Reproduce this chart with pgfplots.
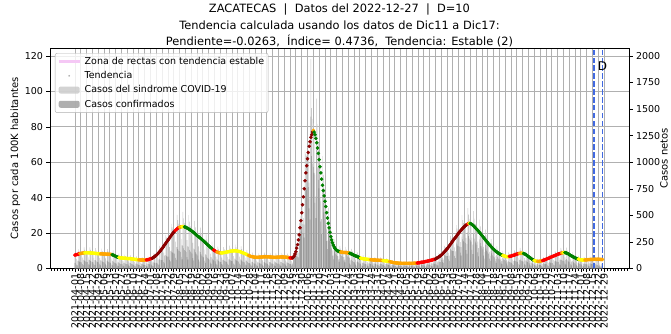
\documentclass[border=0pt]{standalone}
\usepackage{fontspec}
\setmainfont{DejaVu Sans}
\usepackage{pgfplots}
\usepackage{pgfplotstable}
\usepackage{pgfcalendar}
\pgfplotsset{compat=1.18}

\definecolor{tdarkred}{HTML}{8B0000}
\definecolor{tred}{HTML}{FF0000}
\definecolor{torange}{HTML}{FFA500}
\definecolor{tyellow}{HTML}{FFFF00}
\definecolor{tgreen}{HTML}{008000}
\definecolor{sindgray}{HTML}{C8C8C8}
\definecolor{confgray}{HTML}{9C9C9C}
\definecolor{pinkzone}{HTML}{F5C8F5}
\definecolor{royal}{HTML}{4169E1}
\definecolor{gridgray}{HTML}{B0B0B0}

\newcount\basejd
\newcount\tmpjd
\pgfcalendardatetojulian{2021-04-01}{\basejd}

% t: tendencia (por 100K), k: clase de color, s: casos sindrome, c: confirmados (netos)
\pgfplotstableread{
t k s c
7.6 1 133 53
7.7 1 129 52
7.8 1 91 36
8.0 1 74 30
8.1 1 182 73
8.3 1 166 66
8.4 2 154 62
8.5 2 149 60
8.6 2 144 58
8.7 2 102 41
8.8 2 81 32
8.8 2 198 79
8.8 3 176 70
8.9 3 163 65
8.9 3 156 62
8.9 3 149 60
8.9 3 104 42
8.9 3 82 33
8.8 3 198 79
8.8 3 176 70
8.7 3 159 64
8.7 3 152 61
8.7 3 145 58
8.6 3 101 40
8.6 3 79 32
8.5 3 191 76
8.5 3 170 68
8.4 3 154 62
8.4 3 147 59
8.3 3 139 56
8.3 3 97 39
8.3 2 76 30
8.3 2 187 75
8.2 2 164 66
8.2 2 150 60
8.2 2 144 58
8.2 2 137 55
8.2 2 96 38
8.1 2 75 30
8.1 2 182 73
8.1 2 162 65
8.1 2 148 59
8.0 2 140 56
8.0 2 134 54
7.9 2 92 37
7.8 4 72 29
7.6 4 171 68
7.4 4 148 59
7.2 4 132 53
6.9 4 121 48
6.7 4 112 45
6.5 4 76 30
6.3 4 58 23
6.2 3 140 56
6.1 3 122 49
6.0 3 110 44
6.0 3 105 42
5.9 3 99 40
5.9 3 69 28
5.8 3 53 21
5.8 3 131 52
5.8 3 116 46
5.7 3 104 42
5.7 3 100 40
5.6 3 94 38
5.6 3 66 26
5.6 3 52 21
5.5 3 124 50
5.4 3 108 43
5.4 3 99 40
5.3 3 93 37
5.2 3 87 35
5.2 3 61 24
5.1 3 47 19
5.1 3 115 46
5.0 3 100 40
5.0 3 92 37
4.9 2 86 34
4.9 2 82 33
4.8 2 56 22
4.8 2 44 18
4.8 2 108 43
4.8 2 96 38
4.8 2 88 35
4.8 2 84 34
4.8 2 80 32
4.9 1 57 23
4.9 1 45 18
5.0 1 113 45
5.1 1 102 41
5.3 1 97 39
5.5 1 96 38
5.6 1 94 37
5.8 0 68 27
6.1 0 56 22
6.4 0 144 58
6.8 0 136 54
7.1 0 130 52
7.5 0 131 52
8.0 0 134 53
8.5 0 99 40
9.0 0 83 33
9.5 0 214 85
10.0 0 200 80
10.7 0 196 78
11.3 0 198 79
12.0 0 200 80
12.7 0 149 59
13.3 0 122 49
14.0 0 315 126
14.7 0 294 118
15.3 0 280 112
16.0 0 280 112
16.7 0 279 111
17.3 0 202 81
18.0 0 166 66
18.7 0 421 168
19.3 0 386 154
20.0 0 366 146
20.5 0 359 143
21.0 0 351 140
21.5 1 252 101
22.0 1 202 81
22.4 1 504 201
22.8 1 456 182
23.0 1 421 168
23.3 2 408 163
23.4 2 391 156
23.6 2 276 110
23.6 3 217 87
23.7 3 533 213
23.6 3 472 189
23.5 4 430 172
23.3 4 408 163
23.1 4 386 154
22.8 4 267 107
22.6 4 208 83
22.3 4 502 201
22.0 4 440 176
21.7 4 397 159
21.4 4 375 150
21.0 4 351 140
20.7 4 242 97
20.3 4 187 75
19.9 4 448 179
19.4 4 388 155
19.0 4 348 139
18.6 4 326 130
18.2 4 304 122
17.9 4 209 84
17.5 4 161 64
17.1 4 385 154
16.7 4 334 134
16.3 4 298 119
15.9 4 278 111
15.5 4 259 104
15.1 4 177 71
14.6 4 134 54
14.2 4 320 128
13.7 4 274 110
13.3 4 243 97
12.9 4 226 90
12.4 4 207 83
12.0 4 140 56
11.6 4 107 43
11.2 4 252 101
10.8 4 216 86
10.4 1 190 76
10.1 1 177 71
9.8 1 164 66
9.5 1 111 44
9.3 2 86 34
9.2 2 207 83
9.0 2 180 72
8.9 2 163 65
8.9 2 156 62
8.8 3 147 59
8.8 3 103 41
8.9 3 82 33
8.9 3 200 80
9.0 3 180 72
9.1 3 167 67
9.2 3 161 64
9.3 3 155 62
9.4 3 110 44
9.5 3 87 35
9.6 3 216 86
9.7 3 194 78
9.8 3 179 72
9.9 3 173 69
9.9 3 165 66
10.0 3 117 47
10.0 3 92 37
10.0 3 225 90
9.9 3 198 79
9.9 3 181 72
9.8 3 172 69
9.7 3 162 65
9.6 3 112 45
9.4 3 86 35
9.3 3 209 84
9.1 3 182 73
8.9 3 163 65
8.7 3 152 61
8.5 3 142 57
8.3 3 97 39
8.1 3 75 30
7.8 3 176 70
7.6 3 152 61
7.4 2 135 54
7.2 2 126 50
7.0 2 117 47
6.8 2 80 32
6.7 2 62 25
6.6 2 149 59
6.5 2 130 52
6.4 2 117 47
6.4 2 112 45
6.4 2 107 43
6.3 2 74 30
6.3 2 58 23
6.3 2 142 57
6.4 2 128 51
6.4 2 117 47
6.5 2 114 46
6.5 2 109 43
6.5 2 76 30
6.6 2 61 24
6.6 2 149 59
6.6 2 132 53
6.6 2 121 48
6.6 2 116 46
6.6 2 110 44
6.6 2 77 31
6.5 2 60 24
6.5 2 146 59
6.5 2 130 52
6.4 2 117 47
6.4 2 112 45
6.3 2 105 42
6.3 2 74 29
6.3 2 58 23
6.3 2 142 57
6.4 2 128 51
6.4 2 117 47
6.4 2 112 45
6.4 2 107 43
6.5 2 76 30
6.5 2 60 24
6.5 2 146 59
6.5 2 130 52
6.5 2 119 48
6.4 2 112 45
6.4 2 107 43
6.4 2 75 30
6.3 2 58 23
6.2 2 140 56
6.2 2 124 50
6.1 2 112 45
6.0 1 105 42
6.0 1 100 40
5.9 1 69 28
6.0 0 55 39
6.5 0 146 102
7.0 0 140 98
8.2 0 150 105
9.5 0 166 116
11.5 0 192 134
13.5 0 158 111
16.2 0 149 104
19.0 0 428 300
23.0 0 460 322
27.0 0 494 346
31.5 0 551 386
36.0 0 601 421
40.5 0 474 332
45.0 0 414 290
49.5 0 1114 780
54.0 0 1080 756
58.0 0 1061 743
62.0 0 1085 760
65.5 0 1094 766
69.0 0 807 565
71.5 0 658 461
74.0 0 1970 1430
75.5 0 1510 1057
77.0 0 1409 986
78.0 2 1365 956
77.0 4 1286 900
75.5 4 883 618
73.5 4 676 473
71.0 4 1598 1119
68.0 4 1360 952
65.0 4 1190 833
61.5 4 1076 753
57.5 4 960 672
54.0 4 632 442
50.5 4 465 325
47.0 4 1058 741
44.0 4 880 616
41.0 4 750 525
38.0 4 665 466
35.0 4 585 410
31.5 4 369 258
28.5 4 262 183
25.5 4 574 402
23.0 4 460 322
20.5 4 375 263
18.0 4 315 220
16.2 4 271 190
14.6 4 171 120
13.3 4 122 85
12.2 4 275 192
11.4 4 228 160
10.8 4 198 138
10.3 4 180 126
10.0 4 167 117
9.8 4 115 80
9.6 4 88 62
9.5 4 214 150
9.3 2 186 130
9.2 2 168 118
9.2 2 161 113
9.1 2 152 106
9.1 2 106 74
9.0 2 83 58
9.0 2 203 142
8.9 2 178 125
8.9 2 163 114
8.8 2 154 108
8.8 2 147 103
8.6 4 101 45
8.4 4 77 35
8.2 4 185 83
8.0 4 160 72
7.7 4 141 63
7.5 4 131 59
7.3 4 122 55
7.1 4 83 37
6.9 4 63 28
6.7 4 151 68
6.5 4 130 59
6.2 4 113 51
6.0 4 105 47
5.9 3 99 45
5.7 3 67 30
5.6 3 52 23
5.5 3 124 56
5.4 3 108 49
5.4 3 99 45
5.3 3 93 42
5.2 3 87 39
5.2 3 61 27
5.1 3 47 21
5.1 3 115 52
5.0 3 100 45
5.0 2 92 41
4.9 2 86 39
4.9 2 82 37
4.8 2 56 25
4.8 2 44 20
4.8 2 108 49
4.8 2 96 43
4.7 2 86 39
4.7 2 82 37
4.7 2 78 35
4.7 2 55 25
4.6 2 42 19
4.6 2 104 47
4.6 2 92 41
4.5 2 82 37
4.5 3 79 36
4.4 3 73 33
4.4 3 51 23
4.3 3 40 18
4.2 3 95 43
4.2 3 84 38
4.1 3 75 34
4.0 3 70 32
3.9 2 65 29
3.7 2 43 19
3.6 2 33 15
3.5 2 79 36
3.4 2 68 31
3.3 2 60 27
3.2 2 56 25
3.2 2 53 24
3.1 2 36 16
3.1 2 29 13
3.0 2 68 31
3.0 2 60 27
3.0 2 55 25
3.0 2 53 24
2.9 2 48 22
2.9 2 34 15
2.9 2 27 12
2.9 2 65 29
2.9 2 58 26
2.9 2 53 24
2.9 2 51 23
2.9 2 48 22
2.9 2 34 15
2.9 2 27 12
2.9 2 65 29
2.9 2 58 26
2.9 2 53 24
2.9 2 51 23
2.9 2 48 22
3.0 2 35 16
3.0 2 28 13
3.0 2 68 31
3.0 2 60 27
3.1 1 57 26
3.2 1 56 25
3.2 1 53 24
3.3 1 39 18
3.4 1 31 14
3.5 1 79 36
3.5 1 70 32
3.6 1 66 30
3.7 1 65 29
3.8 1 63 28
3.9 1 46 21
4.0 1 37 17
4.1 1 92 41
4.2 1 84 38
4.3 1 79 36
4.5 1 79 36
4.6 1 77 35
4.7 1 55 25
4.8 1 44 20
5.0 1 113 51
5.1 1 102 46
5.2 1 95 43
5.4 0 95 43
5.7 0 95 43
6.0 0 70 32
6.2 0 57 26
6.5 0 146 66
6.9 0 138 62
7.2 0 132 59
7.6 0 133 80
8.0 0 134 80
8.5 0 99 59
9.0 0 83 50
9.5 0 214 128
10.0 0 200 120
10.6 0 194 116
11.1 0 194 116
11.7 0 195 117
12.3 0 144 86
13.0 0 120 72
13.6 0 306 184
14.3 0 286 172
15.0 0 275 165
15.6 0 273 164
16.3 0 272 163
16.9 0 198 119
17.5 0 161 97
18.1 0 407 244
18.8 0 376 226
19.4 0 355 213
20.0 0 350 210
20.6 0 344 206
21.2 0 248 149
21.7 0 200 120
22.3 0 502 301
22.8 0 456 274
23.3 0 426 256
23.7 0 415 249
24.2 0 404 242
24.6 0 288 173
24.9 0 229 137
25.2 1 567 340
25.4 2 508 305
25.5 3 467 280
25.4 4 445 267
25.2 4 421 253
24.9 4 291 175
24.5 4 225 135
24.0 4 540 324
23.5 4 470 282
23.0 4 421 253
22.5 4 394 236
22.0 4 367 220
21.5 4 252 151
20.9 4 192 115
20.4 4 459 275
19.8 4 396 238
19.2 4 351 211
18.6 4 326 196
18.0 4 301 181
17.4 4 204 122
16.8 4 155 93
16.2 4 365 219
15.6 4 312 187
15.1 4 276 166
14.5 4 254 152
13.9 4 232 139
13.4 4 157 94
12.8 4 118 71
12.3 4 277 166
11.8 4 236 142
11.3 4 207 124
10.9 4 191 115
10.4 4 174 104
10.0 4 117 70
9.6 4 88 53
9.3 4 209 125
8.9 4 178 107
8.6 4 157 94
8.3 4 145 87
8.0 4 134 80
7.8 4 91 55
7.6 4 70 42
7.4 3 167 100
7.2 3 144 86
7.1 3 130 78
6.9 3 121 73
6.8 3 114 68
6.7 3 78 47
6.7 3 62 28
6.7 3 151 68
6.8 1 136 61
6.9 1 126 57
7.0 1 123 55
7.2 1 120 54
7.3 1 85 38
7.5 1 69 31
7.6 1 171 77
7.8 1 156 70
8.0 1 146 66
8.1 1 142 64
8.3 1 139 63
8.4 1 98 44
8.5 2 78 35
8.6 2 194 87
8.6 2 172 77
8.6 2 157 71
8.6 3 151 68
8.5 4 142 64
8.3 4 97 44
8.1 4 75 34
7.8 4 176 79
7.4 4 148 67
7.1 4 130 59
6.7 4 117 53
6.4 4 107 48
6.0 4 70 32
5.7 4 52 23
5.3 4 119 54
5.0 4 100 45
4.8 4 88 40
4.5 3 79 36
4.3 3 72 32
4.2 3 49 22
4.1 3 38 17
4.0 2 90 41
4.0 2 80 36
4.1 2 75 34
4.1 2 72 32
4.2 2 70 32
4.4 2 51 23
4.5 1 41 18
4.7 1 106 48
4.8 1 96 43
5.0 1 92 41
5.2 1 91 41
5.4 1 90 41
5.6 1 66 30
5.8 1 53 24
6.0 1 135 61
6.2 1 124 56
6.4 1 117 53
6.6 1 116 52
6.8 1 114 51
7.0 1 82 37
7.2 1 66 30
7.4 1 167 75
7.6 1 152 68
7.8 1 143 64
8.0 1 140 63
8.2 1 137 62
8.3 1 97 44
8.5 1 78 35
8.6 1 194 87
8.8 2 176 79
8.9 2 163 73
9.0 3 158 71
9.0 3 150 68
9.0 4 105 47
8.8 4 81 36
8.7 4 196 88
8.5 4 170 77
8.2 4 150 68
7.9 4 138 62
7.6 4 127 57
7.3 4 85 38
7.1 4 65 29
6.8 4 153 69
6.5 4 130 59
6.3 4 115 52
6.0 4 105 47
5.8 4 97 44
5.6 4 66 29
5.4 4 50 22
5.3 3 119 54
5.1 3 102 46
5.0 3 92 41
4.9 3 86 39
4.9 3 82 37
4.8 3 56 25
4.8 3 44 20
4.8 3 108 49
4.8 2 96 43
4.9 2 90 40
4.9 2 86 39
5.0 2 84 38
5.0 2 59 26
5.0 2 46 21
5.1 2 115 52
5.1 2 102 46
5.1 2 93 42
5.1 2 89 40
5.2 2 87 39
5.2 2 61 27
5.2 2 40 18
5.2 2 95 43
5.2 2 80 36
5.2 2 70 32
5.2 2 60 27
5.2 2 52 23
5.2 2 35 16
5.1 2 25 11
5.1 2 45 20
5.1 2 20 9
}\datos

\pgfplotsset{
  every axis/.append style={
    scale only axis, width=579pt, height=220.5pt,
    at={(0pt,0pt)}, anchor=south west,
    xmin=-30, xmax=667,
    tick align=outside,
    major tick length=3.5pt, minor tick length=2pt,
    every tick/.style={black, line width=0.6pt},
    tick label style={font=\fontsize{9.5}{11}\selectfont},
    label style={font=\fontsize{9.5}{11}\selectfont},
    /pgf/number format/assume math mode=true,
    /pgf/number format/1000 sep={},
    axis line style={line width=0.6pt},
  },
  linehandle/.style={legend image code/.code={
    \draw[##1, line width=3pt] (0pt,0pt) -- (21pt,0pt);
    \path[draw=none, fill=none] (0pt,0pt) -- (24pt,0pt);}},
  dothandle/.style={legend image code/.code={
    \fill[##1, draw=none] (10.5pt,0pt) circle (0.9pt);
    \path[draw=none, fill=none] (0pt,0pt) -- (24pt,0pt);}},
  patchhandle/.style={legend image code/.code={
    \fill[##1, draw=none] (0pt,-3.5pt) rectangle (21pt,3.5pt);
    \path[draw=none, fill=none] (0pt,0pt) -- (24pt,0pt);}},
}

\begin{document}
\begin{tikzpicture}
% eje izquierdo: rejilla y rotulos (debajo de las barras)
\begin{axis}[
  ymin=0, ymax=124.5,
  ytick={0,20,...,120},
  xtick={0,7,...,637},
  minor xtick={-28,-24.5,...,665},
  xtick pos=left, ytick pos=left,
  grid=major,
  grid style={line width=0.8pt, gridgray},
  xticklabel={\pgfmathtruncatemacro{\tdays}{\tick}\tmpjd=\basejd\advance\tmpjd by \tdays\relax\pgfcalendarjuliantodate{\tmpjd}{\yy}{\mm}{\dd}\yy-\mm-\dd},
  xticklabel style={rotate=90, anchor=east, inner sep=1.5pt},
  ylabel={Casos por cada 100K habitantes},
  every axis y label/.style={at={(rel axis cs:-0.060,0.5)}, anchor=center, rotate=90},
  title={ZACATECAS\ \ |\ \ Datos del 2022-12-27\ \ |\ \ D=10\\Tendencia calculada usando los datos de Dic11 a Dic17:\\Pendiente=-0.0263,\ \ Índice= 0.4736,\ \ Tendencia: Estable (2)},
  title style={align=center, font=\fontsize{11.4}{16.8}\selectfont, yshift=-9pt},
]
\addplot[draw=none, forget plot] coordinates {(0,0) (635,0)};
\end{axis}

% eje derecho: barras en casos netos
\begin{axis}[
  ymin=0, ymax=2075,
  axis y line*=right, axis x line=none,
  ytick={0,250,...,2000},
  scaled y ticks=false,
  ylabel={Casos netos},
  every axis y label/.style={at={(rel axis cs:1.0605,0.5)}, anchor=center, rotate=90},
]
\addplot[ybar, bar width=0.42pt, bar shift=0pt, fill=sindgray, draw=none]
  table[x expr=\coordindex, y=s] {\datos};
\addplot[ybar, bar width=0.42pt, bar shift=0pt, fill=confgray, draw=none]
  table[x expr=\coordindex, y=c] {\datos};
\end{axis}

% eje izquierdo: tendencia por cada 100K
\begin{axis}[
  ymin=0, ymax=124.5,
  xtick=\empty, ytick=\empty,
  axis lines=none,
  legend cell align=left,
  legend style={at={(0.0086,0.977)}, anchor=north west, draw=gridgray,
    rounded corners=2pt, fill=white, fill opacity=0.8, text opacity=1, draw opacity=1,
    font=\fontsize{9.5}{11}\selectfont, row sep=1.5pt, inner sep=2pt},
]
\addlegendimage{linehandle, pinkzone}
\addlegendentry{Zona de rectas con tendencia estable}
\addlegendimage{dothandle, gray}
\addlegendentry{Tendencia}
\addlegendimage{patchhandle, sindgray}
\addlegendentry{Casos del sindrome COVID-19}
\addlegendimage{patchhandle, confgray}
\addlegendentry{Casos confirmados}

\addplot[pinkzone, line width=3pt, forget plot]
  coordinates {(619,5.3) (634,5.3)};

\addplot[scatter, only marks, mark=*, mark size=1.6pt, forget plot,
  scatter src=explicit symbolic,
  scatter/classes={
    0={mark=*, fill=tdarkred, draw=tdarkred},
    1={mark=*, fill=tred, draw=tred},
    2={mark=*, fill=torange, draw=torange},
    3={mark=*, fill=tyellow, draw=tyellow},
    4={mark=*, fill=tgreen, draw=tgreen}}]
  table[x expr=\coordindex, y=t, meta=k] {\datos};

\addplot[royal, line width=1.5pt, dash pattern=on 5.5pt off 2.4pt, forget plot]
  coordinates {(625,0) (625,124.5)};
\addplot[royal, line width=1.5pt, dash pattern=on 5.5pt off 2.4pt, forget plot]
  coordinates {(635,0) (635,124.5)};
\node[font=\fontsize{12}{12}\selectfont] at (axis cs:635,114) {D};
\end{axis}
\pgfresetboundingbox
\useasboundingbox (-50pt,-65.5pt) rectangle (621pt,268.5pt);
\end{tikzpicture}
\end{document}
